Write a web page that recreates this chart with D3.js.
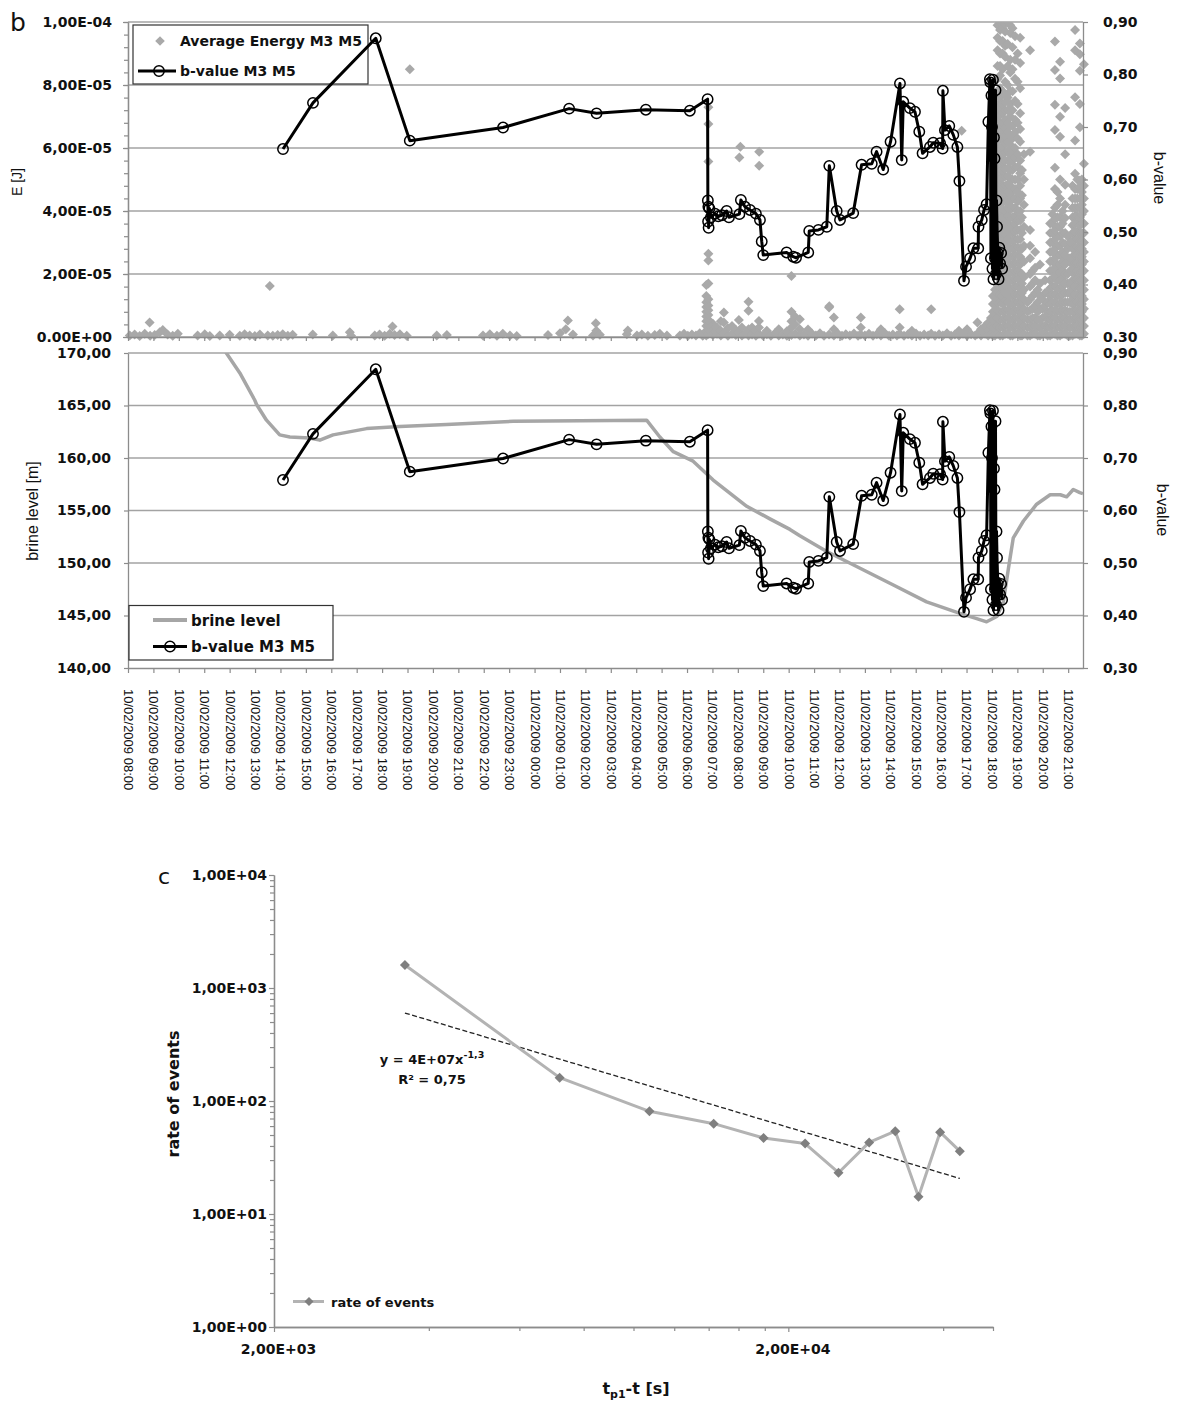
<!DOCTYPE html>
<html><head><meta charset="utf-8">
<script src="https://cdn.jsdelivr.net/npm/d3@7"></script>
<style>
body{margin:0;background:#fff;}
svg{display:block;background:#fff;}
</style></head><body>
<svg id="chart" width="1182" height="1403"></svg>
<script>
// ================= DATA =================
// time axis: hours after 10/02/2009 08:00
const startTime = new Date(2009, 1, 10, 8, 0);
const endTime = new Date(2009, 1, 11, 21, 35);

// top panel tick labels
const energyTicks = [0, 2e-5, 4e-5, 6e-5, 8e-5, 1e-4];
const energyTickLabels = ["0.00E+00", "2,00E-05", "4,00E-05", "6,00E-05", "8,00E-05", "1,00E-04"];
const bTicks = [0.3, 0.4, 0.5, 0.6, 0.7, 0.8, 0.9];
const bTickLabelsTop = ["0.30", "0,40", "0,50", "0,60", "0,70", "0,80", "0,90"];
const bTickLabelsBottom = ["0,30", "0,40", "0,50", "0,60", "0,70", "0,80", "0,90"];
const brineTicks = [140, 145, 150, 155, 160, 165, 170];
const brineTickLabels = ["140,00", "145,00", "150,00", "155,00", "160,00", "165,00", "170,00"];

// Average energy M3 M5 (hours, microjoule) – isolated points
const energyScatter = [
[0.07,0.5],[0.26,0.8],[0.46,0.3],[0.66,1.0],[0.85,4.6],[0.87,0.4],[1.05,0.6],[1.25,1.5],[1.37,2.2],[1.56,0.8],[1.76,0.4],[1.96,1.0],
[2.74,0.5],[3.02,0.9],[3.22,0.3],[3.61,0.5],[4.00,0.7],[4.40,0.4],[4.59,0.9],[4.79,0.5],[4.99,0.3],[5.19,0.8],[5.50,0.5],[5.58,16.2],[5.70,0.4],[5.89,0.6],[6.09,0.9],[6.29,0.4],[6.48,0.7],
[7.27,0.8],[8.06,0.5],[8.73,1.5],[8.78,0.4],[9.71,0.5],[9.90,0.8],[10.10,0.4],[10.30,1.0],[10.41,3.3],[10.49,0.6],[10.70,0.9],[10.97,0.4],[11.09,85.0],
[12.15,0.5],[12.55,0.6],[13.97,0.5],[14.24,0.9],[14.52,0.4],[14.75,1.0],[15.03,0.5],[15.30,0.3],
[16.53,0.6],[17.00,1.2],[17.23,2.5],[17.31,5.2],[17.51,0.8],[18.30,0.5],[18.41,4.4],[18.43,2.0],[18.57,0.7],
[19.63,0.9],[19.67,2.1],[20.03,0.5],[20.22,0.8],[20.46,0.4],[20.73,0.6],[20.93,1.0],[21.21,0.5],
[21.72,0.5],[21.88,1.0],[22.03,0.4],[22.19,0.8],[22.35,0.5],[22.50,1.2],[22.62,0.4],
[23.02,0.6],[23.02,2.5],[23.02,4.2],[23.18,1.0],[23.18,3.0],[23.33,0.5],[23.33,2.0],[23.33,5.0],[23.45,1.2],[23.45,4.6],[23.45,7.8],[23.61,0.4],[23.61,2.8],[23.77,1.0],[23.77,3.5],[23.92,0.6],[23.92,2.2],[24.04,1.5],[24.04,5.4],[24.06,57.0],[24.10,60.4],[24.16,0.5],[24.16,3.0],[24.28,1.0],
[24.42,0.5],[24.42,2.5],[24.42,8.3],[24.42,11.2],[24.56,0.8],[24.56,3.0],[24.71,0.4],[24.71,2.0],[24.83,1.0],[24.83,3.0],[24.83,5.1],[24.84,54.4],[24.84,58.8],[24.99,0.5],[25.14,0.9],[25.14,2.0],[25.30,0.4],[25.46,1.2],[25.61,0.5],[25.61,2.5],[25.77,0.8],[25.93,0.4],[25.93,1.8],
[26.11,0.6],[26.11,3.0],[26.11,5.0],[26.11,8.0],[26.11,19.4],[26.25,1.0],[26.25,4.0],[26.25,6.5],[26.44,0.5],[26.44,2.5],[26.44,5.6],[26.60,0.8],[26.76,0.4],[26.76,2.4],[26.92,1.0],[27.07,0.5],[27.23,1.2],[27.39,0.4],
[27.59,0.8],[27.59,9.4],[27.60,9.8],[27.78,0.5],[27.78,2.5],[27.78,6.2],[27.94,1.0],[28.10,0.4],[28.25,0.9],[28.41,0.5],[28.57,1.1],[28.73,0.4],[28.84,0.8],[28.84,3.0],[28.84,6.2],[29.00,0.5],[29.16,1.0],[29.32,0.4],[29.47,0.9],[29.63,0.5],[29.63,2.5],[29.79,1.2],[29.95,0.4],[30.10,0.8],[30.26,0.5],[30.37,1.0],[30.37,3.0],[30.37,8.8],[30.54,0.4],[30.70,0.9],[30.85,0.5],[30.85,2.0],[31.01,1.1],[31.17,0.4],[31.33,0.8],[31.49,0.5],[31.61,1.0],[31.61,8.8],[31.76,0.4],[31.92,0.9],[32.07,0.5],[32.23,1.2],[32.39,0.4],[32.54,0.8],[32.70,0.5],[32.70,2.0],[32.81,65.5],[32.86,1.0],[33.02,0.4],[33.02,2.5],[33.18,0.9],[33.34,0.5],[33.43,1.0],[33.43,4.6],[33.57,0.5],[33.57,2.5],[33.73,1.0],[33.73,3.5],[33.85,0.5],[33.85,2.0],[33.85,4.5]
];

// Average energy – dense columns (hours, [microjoule ...])
const energyColumns = [
[22.76,[0.5,2,3.5,5,6.5,8,9.5,11,13,16.5]],
[22.84,[1,2.5,4,5.5,7,8.5,10,12,17,24.3,26.4,55.7,67.6,72.9]],
[33.96,[1,3.5,6]],
[34.04,[0.5,3,5.5,8,10.5,13]],
[34.12,[0.5,2.5,5,7.5,10,12.5,15]],
[34.22,[1,3.5,6,8.5,11,14,16.5,19,22,24.5,27,30,32.5,35,38,40.5,43,46,48.5,51,54,56.5,59,62,64.5,67,70,72.5,75,78,82,86,91,95,99]],
[34.32,[0.5,3,5.5,8,11,13.5,16,18.5,21,24,26.5,29,31.5,34,37,39.5,42,44.5,47,50,52.5,55,57.5,60,63,65.5,68,70.5,73,76,79,83,86,90,94,97.5,100]],
[34.42,[0.5,3,5.5,8,10.5,13,15.5,18,20.5,23,25.5,28,30.5,33,35.5,38,40.5,43,45.5,48,50.5,53,55.5,58,60.5,63,65.5,68,71,74,78,85,90,94,98]],
[34.52,[1,3.5,6,8.5,11.5,14,16.5,19,22,24.5,27,29.5,32.5,35,37.5,40,43,45.5,48,51,53.5,56,58.5,61.5,64,66.5,69,72,74.5,77,81,89,92.5,97,99.5]],
[34.62,[1,3.5,6,8.5,11,13.5,16,18.5,21,23.5,26,28.5,31,33.5,36,38.5,41,43.5,46,48.5,51,53.5,56,59,62,65,68,72,76,80,86,93,100]],
[34.72,[0.5,3,5.5,8,10.5,13,15.5,18,20.5,23,25.5,28,30.5,33,35.5,38,40.5,43,45.5,48,50.5,53,55.5,58,61,64,67,70,74,78,84,88,96.5,99]],
[34.81,[0.5,3,5.5,8,10.5,13,15.5,18,20.5,23,25.5,28,30.5,33,35.5,38,41,44,47,50,53,56,59,63,67,72,78,85,92,98]],
[34.91,[1,3.5,6,8.5,11,13.5,16,18.5,21,23.5,26,28.5,31,33.5,36,38.5,41,44,47,50,54,57,60,65,69,75,82,88,95.5]],
[35.01,[1,3.5,6,8.5,11,13.5,16,18.5,21,23.5,26,28.5,31,34,37,40,43,46,50,54,58,63,68,74,81,90]],
[35.11,[0.5,3,5.5,8,10.5,13,15.5,18,20.5,23,25.5,28,31,34,37,40,44,48,52,56,62,66,71,79,87,95]],
[35.18,[0.5,3,5.5,8,11,14,17,20,24,28,33,38,45,53]],
[35.26,[1,3.5,6,9,12,15,19,24,29,35,42,50,58]],
[35.40,[0.5,3,5.5,8,11]],
[35.50,[0.5,3,5.5,8.5,12,16,20,25,29,34,58.8,91]],
[35.60,[1,3.5,6,9,13,17,21]],
[35.70,[1,3.5,6,10,14,18,22,27]],
[35.80,[0.5,3,5.5,8,11,15]],
[35.89,[0.5,3,5.5,9,13,17,23]],
[35.99,[1,3.5,6,9,12]],
[36.09,[1,3.5,6.5,10,14,18]],
[36.19,[0.5,3,5.5,8,11,14]],
[36.29,[0.5,3,5.5,8,10.5,13,15.5,18,21,24,27,30,33,36]],
[36.38,[1,3.5,6,8.5,11,13.5,16,18.5,21,24,27,30,33,36,39]],
[36.48,[1,3.5,6,8.5,11,13.5,16,19,22,25,28,31,34,37.5,41,47,53.7,65.7,73.7,84.8,93.8]],
[36.58,[0.5,3,5.5,8,10.5,13,15.5,18,20.5,23,26,29,32,35,38,42,46]],
[36.68,[0.5,3,5.5,8,10.5,13,15.5,18,20.5,23,26,29,32,35,38,44,50,63.6,69.9,82.1,87.4]],
[36.78,[1,3.5,6,8.5,11,13.5,16,18.5,21,24,27,30,33,36,40]],
[36.88,[1,3.5,6,8.5,11,14,17,20,23,26,29.5,33,37.8,42,48.3,58,72.7]],
[36.98,[0.5,3,5.5,8,11,14,17,20,24,28,32]],
[37.07,[0.5,3,5.5,8,11,14,17,21,25,30]],
[37.17,[0.5,3,5.5,8,10.5,13,15.5,18,20.5,23,25.5,28,30.5,33,35.5,38,41,44,48]],
[37.27,[1,3.5,6,8.5,11,13.5,16,18.5,21,23.5,26,28.5,31,33.5,36,38.5,41,44,47,51.8,62.4,76.1,91,97.5]],
[37.36,[1,3.5,6,8.5,11,13.5,16,18.5,21,23.5,26,28.5,31,33.5,36,38.5,41,44,47,50]],
[37.46,[0.5,3,5.5,8,10.5,13,15.5,18,20.5,23,25.5,28,30.5,33,35.5,38,41,44,47.7,49.7,66.6,74,84.5,89.8,93.2]],
[37.54,[0.5,3,5.5,8,10.5,13,15.5,18,20.5,23,25.5,28,30.5,33,36,39,42,46,50]],
[37.62,[1,3.5,6,9,12,15,18,21,24,27,30,33,36,40,44,48,55,86.6]]
];

// b-value M3 M5 (hours, b)
const bValue = [
[6.10,0.658],[7.28,0.746],[9.75,0.869],[11.09,0.674],[14.76,0.699],[17.36,0.735],[18.44,0.726],[20.38,0.733],[22.11,0.731],[22.81,0.753],
[22.82,0.560],[22.83,0.520],[22.84,0.548],[22.85,0.508],[22.88,0.545],[22.94,0.528],[23.10,0.535],[23.23,0.530],[23.37,0.532],[23.56,0.540],[23.65,0.528],
[24.06,0.534],[24.12,0.561],[24.28,0.548],[24.48,0.542],[24.71,0.535],[24.87,0.523],[24.94,0.482],[25.00,0.456],
[25.92,0.461],[26.18,0.453],[26.29,0.451],[26.77,0.461],[26.81,0.502],[27.17,0.504],[27.50,0.510],[27.60,0.626],[27.89,0.540],[28.02,0.523],[28.54,0.536],
[28.87,0.628],[29.27,0.630],[29.46,0.653],[29.72,0.619],[30.01,0.672],[30.38,0.783],[30.45,0.637],[30.51,0.748],[30.77,0.736],[30.97,0.729],[31.14,0.691],[31.27,0.650],
[31.56,0.662],[31.69,0.670],[31.96,0.669],[32.06,0.659],[32.07,0.769],[32.15,0.694],[32.32,0.702],[32.48,0.685],[32.64,0.662],[32.72,0.597],
[32.90,0.407],[32.98,0.434],[33.14,0.450],[33.27,0.469],[33.46,0.469],[33.47,0.510],[33.60,0.523],[33.69,0.542],[33.79,0.553],[33.86,0.710],[33.92,0.791],
[33.94,0.785],[33.96,0.45],[33.98,0.76],[34.00,0.70],[34.02,0.43],[34.04,0.79],[34.06,0.41],[34.08,0.68],[34.10,0.64],[34.12,0.45],[34.14,0.77],[34.16,0.42],
[34.18,0.56],[34.20,0.51],[34.23,0.46],[34.26,0.41],[34.29,0.47],[34.32,0.44],[34.36,0.46],[34.40,0.43]
];

// brine level (hours, m)
const brineHours = [3.0,3.87,4.40,4.99,5.06,5.45,5.97,6.37,7.15,7.55,8.07,9.39,10.70,12.54,15.16,20.41,20.93,21.46,22.24,23.03,24.35,25.26,26.05,26.44,27.50,28.81,30.12,31.43,32.74,33.40,33.79,34.19,34.45,34.65,34.84,35.24,35.76,36.29,36.69,36.94,37.20,37.46,37.58];
const brineLevel = [174.5,170.0,168.1,165.5,165.1,163.6,162.2,162.0,161.9,161.7,162.2,162.8,163.0,163.2,163.5,163.6,162.0,160.6,159.7,157.9,155.4,154.2,153.2,152.6,151.1,149.5,147.9,146.3,145.2,144.7,144.4,144.9,146.3,149.5,152.4,154.0,155.6,156.5,156.5,156.3,157.0,156.7,156.6];

// panel c: rate of events
const rateTime = [3594,7184,10740,14320,17900,21560,25040,28720,32280,35820,39460,43100];
const rateValues = [1600,161,81,63,47,42,23.2,43,54,14.2,53,36];
const cYTicks = [1,10,100,1000,10000];
const cYTickLabels = ["1,00E+00","1,00E+01","1,00E+02","1,00E+03","1,00E+04"];
const cXTicks = [2000,20000];
const cXTickLabels = ["2,00E+03","2,00E+04"];
const trendLabel = ["y = 4E+07x", "-1,3", "R² = 0,75"];

// ================= DRAWING =================
const svg = d3.select("#chart");
const AX = "#8c8c8c", GRID = "#a3a3a3", TXT = "#111";
const BOLD = "DejaVu Sans, sans-serif";
const REG = "Liberation Sans, Arial, sans-serif";
const hrs = h => new Date(startTime.getTime() + h * 3600e3);

const X0 = 128, X1 = 1083;
const T = {top: 22, bot: 337}, B = {top: 353, bot: 668};
const x = d3.scaleTime().domain([startTime, endTime]).range([X0, X1]);
const yE = d3.scaleLinear().domain([0, 1e-4]).range([T.bot, T.top]);
const yB1 = d3.scaleLinear().domain([0.3, 0.9]).range([T.bot, T.top]);
const yL = d3.scaleLinear().domain([140, 170]).range([B.bot, B.top]);
const yB2 = d3.scaleLinear().domain([0.3, 0.9]).range([B.bot, B.top]);

const defs = svg.append("defs");
defs.append("clipPath").attr("id", "clipTop").append("rect")
  .attr("x", X0 - 10).attr("y", T.top).attr("width", X1 - X0 + 20).attr("height", T.bot - T.top + 12);
defs.append("clipPath").attr("id", "clipBot").append("rect")
  .attr("x", X0).attr("y", B.top).attr("width", X1 - X0).attr("height", B.bot - B.top);

function styleAxis(g, o = {}) {
  g.attr("font-family", o.family || BOLD).attr("font-size", o.size || 14)
   .attr("font-weight", o.weight || "bold");
  g.select(".domain").attr("stroke", o.noDomain ? "none" : AX).attr("stroke-width", 1.3);
  g.selectAll(".tick line").attr("stroke", AX).attr("stroke-width", 1.2);
  g.selectAll(".tick text").attr("fill", TXT);
  return g;
}
const diamond = r => `M0,${-r}L${r},0L0,${r}L${-r},0Z`;

// ---------- TOP PANEL ----------
svg.append("g").selectAll("line").data(energyTicks).join("line")
  .attr("x1", X0).attr("x2", X1).attr("y1", d => yE(d)).attr("y2", d => yE(d))
  .attr("stroke", GRID).attr("stroke-width", 1.4);

const energyPoints = energyScatter.concat(
  energyColumns.flatMap(([h, vs]) => vs.map(v => [h, v])));
svg.append("g").attr("clip-path", "url(#clipTop)")
  .selectAll("path").data(energyPoints).join("path")
  .attr("d", diamond(5))
  .attr("transform", d => `translate(${x(hrs(d[0]))},${yE(d[1] * 1e-6)})`)
  .attr("fill", "#a9a9a9");

// axes
styleAxis(svg.append("g").attr("transform", `translate(${X0},0)`)
  .call(d3.axisLeft(yE).tickValues(d3.range(0, 1.00001e-4, 4e-6)).tickSize(4).tickSizeOuter(0).tickFormat("")));
styleAxis(svg.append("g").attr("transform", `translate(${X0},0)`)
  .call(d3.axisLeft(yE).tickValues(energyTicks).tickFormat((d, i) => energyTickLabels[i])
    .tickSize(5).tickSizeOuter(0).tickPadding(11)));
styleAxis(svg.append("g").attr("transform", `translate(${X1},0)`)
  .call(d3.axisRight(yB1).tickValues(bTicks).tickFormat((d, i) => bTickLabelsTop[i])
    .tickSize(5).tickSizeOuter(0).tickPadding(15)));
styleAxis(svg.append("g").attr("transform", `translate(0,${T.bot})`)
  .call(d3.axisBottom(x).ticks(d3.timeHour.every(1)).tickSize(4).tickSizeOuter(0).tickFormat("")));

// legend top (drawn beneath the b-value line)
const lg1 = svg.append("g");
lg1.append("rect").attr("x", 133).attr("y", 25).attr("width", 235).attr("height", 59)
  .attr("fill", "#fff").attr("stroke", "#333").attr("stroke-width", 1.2);
lg1.append("path").attr("d", diamond(4.8)).attr("transform", "translate(160,41)").attr("fill", "#a9a9a9");
lg1.append("line").attr("x1", 138).attr("x2", 176).attr("y1", 71).attr("y2", 71)
  .attr("stroke", "#000").attr("stroke-width", 3);
lg1.append("circle").attr("cx", 159).attr("cy", 71).attr("r", 5.2)
  .attr("fill", "none").attr("stroke", "#000").attr("stroke-width", 1.5);
lg1.append("text").attr("x", 180).attr("y", 46).attr("font-family", BOLD).attr("font-weight", "bold")
  .attr("font-size", 14).attr("fill", TXT).text("Average Energy M3 M5");
lg1.append("text").attr("x", 180).attr("y", 76).attr("font-family", BOLD).attr("font-weight", "bold")
  .attr("font-size", 14).attr("fill", TXT).text("b-value M3 M5");

// b-value line top
const lineTop = d3.line().x(d => x(hrs(d[0]))).y(d => yB1(d[1]));
svg.append("path").datum(bValue).attr("d", lineTop)
  .attr("fill", "none").attr("stroke", "#000").attr("stroke-width", 3).attr("stroke-linejoin", "round");
svg.append("g").selectAll("circle").data(bValue).join("circle")
  .attr("cx", d => x(hrs(d[0]))).attr("cy", d => yB1(d[1])).attr("r", 5.2)
  .attr("fill", "none").attr("stroke", "#000").attr("stroke-width", 1.5);

// titles top
svg.append("text").attr("transform", "translate(22,182) rotate(-90)").attr("text-anchor", "middle")
  .attr("font-family", REG).attr("font-size", 14).attr("fill", TXT).text("E [J]");
svg.append("text").attr("transform", "translate(1154,178) rotate(90)").attr("text-anchor", "middle")
  .attr("font-family", REG).attr("font-size", 16).attr("fill", TXT).text("b-value");
svg.append("text").attr("x", 10).attr("y", 31).attr("font-family", "DejaVu Sans")
  .attr("font-size", 25).attr("fill", TXT).text("b");

// ---------- BOTTOM PANEL ----------
svg.append("g").selectAll("line").data(brineTicks.slice(1)).join("line")
  .attr("x1", X0).attr("x2", X1).attr("y1", d => yL(d)).attr("y2", d => yL(d))
  .attr("stroke", GRID).attr("stroke-width", 1.4);

const brineData = brineHours.map((h, i) => [h, brineLevel[i]]);
svg.append("path").datum(brineData).attr("clip-path", "url(#clipBot)")
  .attr("d", d3.line().x(d => x(hrs(d[0]))).y(d => yL(d[1])))
  .attr("fill", "none").attr("stroke", "#a6a6a6").attr("stroke-width", 3.5).attr("stroke-linejoin", "round");

const lineBot = d3.line().x(d => x(hrs(d[0]))).y(d => yB2(d[1]));
svg.append("path").datum(bValue).attr("d", lineBot)
  .attr("fill", "none").attr("stroke", "#000").attr("stroke-width", 3).attr("stroke-linejoin", "round");
svg.append("g").selectAll("circle").data(bValue).join("circle")
  .attr("cx", d => x(hrs(d[0]))).attr("cy", d => yB2(d[1])).attr("r", 5.2)
  .attr("fill", "none").attr("stroke", "#000").attr("stroke-width", 1.5);

styleAxis(svg.append("g").attr("transform", `translate(${X0},0)`)
  .call(d3.axisLeft(yL).tickValues(brineTicks).tickFormat((d, i) => brineTickLabels[i])
    .tickSize(4).tickSizeOuter(0).tickPadding(13)));
styleAxis(svg.append("g").attr("transform", `translate(${X1},0)`)
  .call(d3.axisRight(yB2).tickValues(bTicks).tickFormat((d, i) => bTickLabelsBottom[i])
    .tickSize(5).tickSizeOuter(0).tickPadding(15)));
const gx = styleAxis(svg.append("g").attr("transform", `translate(0,${B.bot})`)
  .call(d3.axisBottom(x).ticks(d3.timeHour.every(1)).tickSize(5).tickSizeOuter(0)
    .tickFormat(d3.timeFormat("%d/%m/%Y %H:%M"))),
  {family: REG, weight: "normal", size: 13});
gx.selectAll(".tick text").attr("transform", "rotate(90)").attr("text-anchor", "start")
  .attr("x", 21).attr("y", 0).attr("dy", "0.35em");

svg.append("text").attr("transform", "translate(38,511) rotate(-90)").attr("text-anchor", "middle")
  .attr("font-family", REG).attr("font-size", 16).attr("fill", TXT).text("brine level [m]");
svg.append("text").attr("transform", "translate(1157,510) rotate(90)").attr("text-anchor", "middle")
  .attr("font-family", REG).attr("font-size", 16).attr("fill", TXT).text("b-value");

const lg2 = svg.append("g");
lg2.append("rect").attr("x", 129).attr("y", 605.5).attr("width", 204).attr("height", 54.5)
  .attr("fill", "#fff").attr("stroke", "#333").attr("stroke-width", 1.2);
lg2.append("line").attr("x1", 153).attr("x2", 187).attr("y1", 620).attr("y2", 620)
  .attr("stroke", "#a6a6a6").attr("stroke-width", 4);
lg2.append("line").attr("x1", 153).attr("x2", 187).attr("y1", 646.5).attr("y2", 646.5)
  .attr("stroke", "#000").attr("stroke-width", 3);
lg2.append("circle").attr("cx", 170).attr("cy", 646.5).attr("r", 5.2)
  .attr("fill", "none").attr("stroke", "#000").attr("stroke-width", 1.5);
lg2.append("text").attr("x", 191).attr("y", 625.5).attr("font-family", BOLD).attr("font-weight", "bold")
  .attr("font-size", 15).attr("fill", TXT).text("brine level");
lg2.append("text").attr("x", 191).attr("y", 652).attr("font-family", BOLD).attr("font-weight", "bold")
  .attr("font-size", 15).attr("fill", TXT).text("b-value M3 M5");

// ---------- PANEL C ----------
const CX0 = 274, CX1 = 993, CY0 = 875, CY1 = 1327;
const xc = d3.scaleLog().domain([2000, 50000]).range([CX0, CX1]);
const yc = d3.scaleLog().domain([1, 10000]).range([CY1, CY0]);

const yMinor = [];
[1, 10, 100, 1000].forEach(dec => { for (let k = 2; k <= 9; k++) yMinor.push(dec * k); });
styleAxis(svg.append("g").attr("transform", `translate(${CX0},0)`)
  .call(d3.axisLeft(yc).tickValues(yMinor).tickSize(4).tickSizeOuter(0).tickFormat("")));
styleAxis(svg.append("g").attr("transform", `translate(${CX0},0)`)
  .call(d3.axisLeft(yc).tickValues(cYTicks).tickFormat((d, i) => cYTickLabels[i])
    .tickSize(5).tickSizeOuter(0).tickPadding(2)));
const xMinor = [4000, 6000, 8000, 10000, 12000, 14000, 16000, 18000, 40000, 50000];
styleAxis(svg.append("g").attr("transform", `translate(0,${CY1})`)
  .call(d3.axisBottom(xc).tickValues(xMinor).tickSize(4).tickSizeOuter(0).tickFormat("")));
const gxc = styleAxis(svg.append("g").attr("transform", `translate(0,${CY1})`)
  .call(d3.axisBottom(xc).tickValues(cXTicks).tickFormat((d, i) => cXTickLabels[i])
    .tickSize(5).tickSizeOuter(0).tickPadding(12)));
gxc.selectAll(".tick text").attr("dx", 4);

// power-law trend (least squares in log-log space)
const lx = rateTime.map(Math.log), ly = rateValues.map(Math.log);
const mx = d3.mean(lx), my = d3.mean(ly);
const slope = d3.sum(lx.map((v, i) => (v - mx) * (ly[i] - my))) / d3.sum(lx.map(v => (v - mx) ** 2));
const icpt = my - slope * mx;
const trendX = d3.extent(rateTime);
svg.append("line")
  .attr("x1", xc(trendX[0])).attr("y1", yc(Math.exp(icpt + slope * Math.log(trendX[0]))))
  .attr("x2", xc(trendX[1])).attr("y2", yc(Math.exp(icpt + slope * Math.log(trendX[1]))))
  .attr("stroke", "#222").attr("stroke-width", 1.3).attr("stroke-dasharray", "5,2.5");

const rateData = rateTime.map((t, i) => [t, rateValues[i]]);
svg.append("path").datum(rateData)
  .attr("d", d3.line().x(d => xc(d[0])).y(d => yc(d[1])))
  .attr("fill", "none").attr("stroke", "#b3b3b3").attr("stroke-width", 3).attr("stroke-linejoin", "round");
svg.append("g").selectAll("path").data(rateData).join("path")
  .attr("d", diamond(5)).attr("transform", d => `translate(${xc(d[0])},${yc(d[1])})`)
  .attr("fill", "#7f7f7f");

const eq = svg.append("text").attr("x", 432).attr("y", 1064).attr("text-anchor", "middle")
  .attr("font-family", BOLD).attr("font-weight", "bold").attr("font-size", 13).attr("fill", TXT);
eq.append("tspan").text(trendLabel[0]);
eq.append("tspan").attr("dy", -6).attr("font-size", 9.5).text(trendLabel[1]);
svg.append("text").attr("x", 432).attr("y", 1084).attr("text-anchor", "middle")
  .attr("font-family", BOLD).attr("font-weight", "bold").attr("font-size", 13).attr("fill", TXT)
  .text(trendLabel[2]);

// legend c
svg.append("line").attr("x1", 293).attr("x2", 324).attr("y1", 1301.5).attr("y2", 1301.5)
  .attr("stroke", "#b3b3b3").attr("stroke-width", 3);
svg.append("path").attr("d", diamond(4.5)).attr("transform", "translate(309,1301.5)").attr("fill", "#7f7f7f");
svg.append("text").attr("x", 331).attr("y", 1306.5).attr("font-family", BOLD).attr("font-weight", "bold")
  .attr("font-size", 13).attr("fill", TXT).text("rate of events");

svg.append("text").attr("transform", "translate(179,1094) rotate(-90)").attr("text-anchor", "middle")
  .attr("font-family", BOLD).attr("font-weight", "bold").attr("font-size", 16).attr("fill", TXT)
  .text("rate of events");
const xt = svg.append("text").attr("x", 636).attr("y", 1394).attr("text-anchor", "middle")
  .attr("font-family", BOLD).attr("font-weight", "bold").attr("font-size", 16).attr("fill", TXT);
xt.append("tspan").text("t");
xt.append("tspan").attr("dy", 4).attr("font-size", 11).text("p1");
xt.append("tspan").attr("dy", -4).text("-t [s]");
svg.append("text").attr("x", 158).attr("y", 884).attr("font-family", "DejaVu Sans")
  .attr("font-size", 22).attr("fill", TXT).text("c");
</script>
</body></html>
